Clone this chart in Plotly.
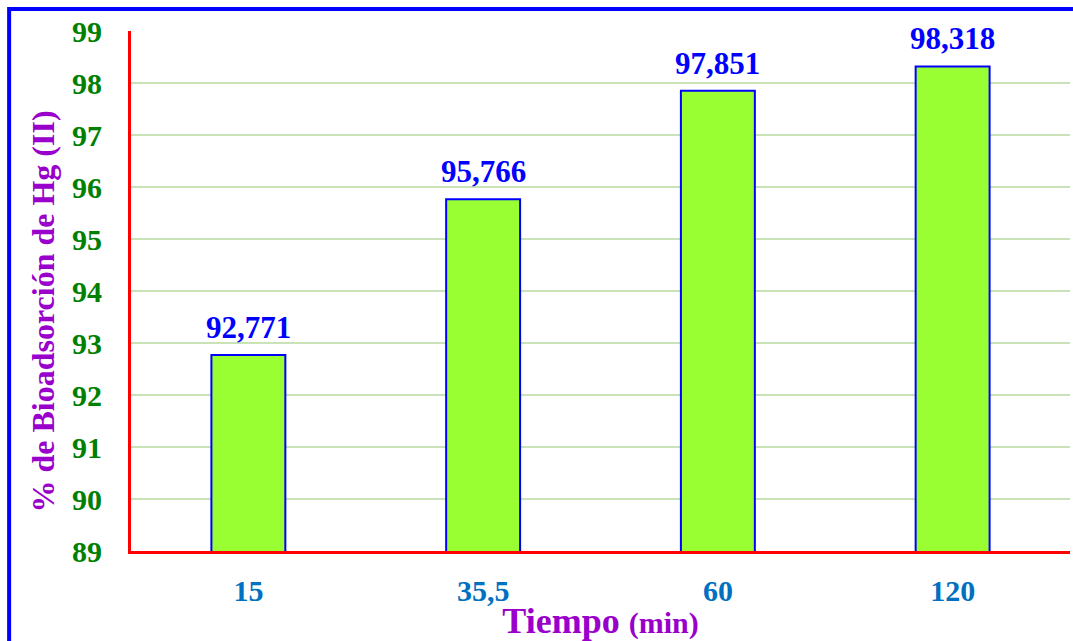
import plotly.graph_objects as go

# Contact time (min) and Hg(II) biosorption percentage
tiempos = ["15", "35,5", "60", "120"]
bioadsorcion = [92.771, 95.766, 97.851, 98.318]
etiquetas = ["92,771", "95,766", "97,851", "98,318"]
y_ticks = [89, 90, 91, 92, 93, 94, 95, 96, 97, 98, 99]

SERIF = "Liberation Serif, Times New Roman, serif"
posiciones = list(range(len(tiempos)))

fig = go.Figure()
fig.add_trace(go.Bar(
    x=posiciones,
    y=bioadsorcion,
    width=0.315,
    marker=dict(color="#99FF33", line=dict(color="#0000FF", width=2)),
    hoverinfo="skip",
))

# value labels above each bar
for pos, val, txt in zip(posiciones, bioadsorcion, etiquetas):
    fig.add_annotation(
        x=pos, y=val, text=f"<b>{txt}</b>", showarrow=False,
        yanchor="bottom", yshift=8,
        font=dict(family=SERIF, size=31, color="#0000FF"),
    )

# y-axis title
fig.add_annotation(
    xref="paper", yref="paper", x=-0.094, y=0.46,
    text="<b>% de Bioadsorción de Hg (II)</b>", textangle=-90,
    showarrow=False, xanchor="center", yanchor="middle",
    font=dict(family=SERIF, size=32, color="#9900CC"),
)

# outer blue frame
fig.add_shape(
    type="rect", xref="paper", yref="paper",
    x0=-0.1298, x1=1.3, y0=-1.0, y1=1.0423,
    line=dict(color="#0000FF", width=4), fillcolor="rgba(0,0,0,0)",
    layer="above",
)

fig.update_layout(
    width=1073, height=641,
    margin=dict(l=131, r=3, t=31, b=90),
    paper_bgcolor="white", plot_bgcolor="white",
    showlegend=False,
    xaxis=dict(
        range=[-0.5, 3.5], tickvals=posiciones, ticktext=tiempos,
        showline=True, linecolor="#FF0000", linewidth=3,
        showgrid=False, zeroline=False, ticks="", ticklabelstandoff=11,
        tickfont=dict(family=SERIF, size=30, color="#0070C0", weight="bold"),
        title=dict(
            text="<b>Tiempo <span style='font-size:30px'>(min)</span></b>",
            font=dict(family=SERIF, size=36, color="#9900CC"),
            standoff=6,
        ),
    ),
    yaxis=dict(
        range=[89, 99], tickvals=y_ticks,
        showline=True, linecolor="#FF0000", linewidth=3,
        showgrid=True, gridcolor="#C9E2B8", gridwidth=1.5,
        zeroline=False, ticks="", ticklabelstandoff=20,
        tickfont=dict(family=SERIF, size=30, color="#008000", weight="bold"),
    ),
)

fig.write_html("out.html")
